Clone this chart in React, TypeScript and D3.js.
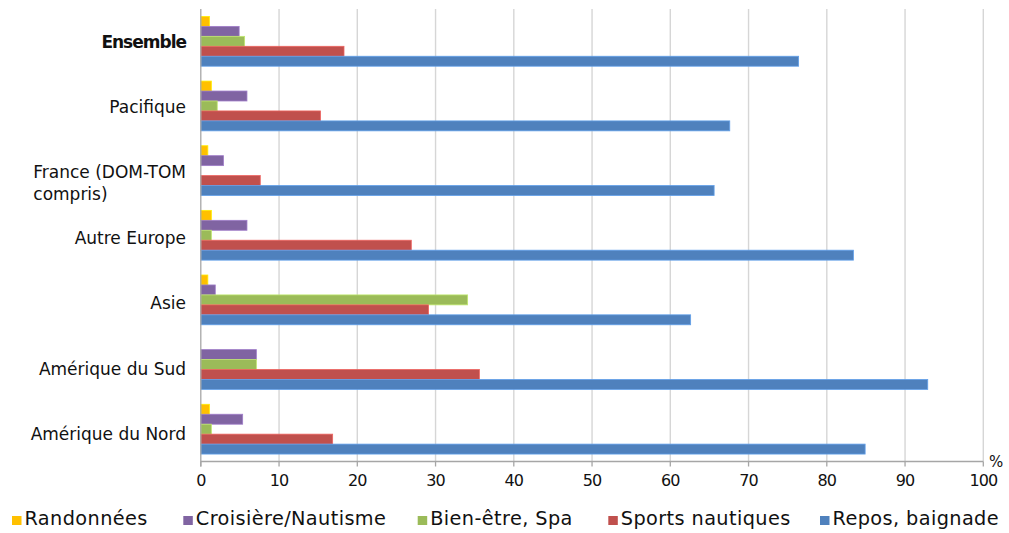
import React, { useEffect, useRef } from "react";
import * as d3 from "d3";

// Destinations (top to bottom) and activity shares, in %
const categories = [
  "Ensemble",
  "Pacifique",
  "France (DOM-TOM compris)",
  "Autre Europe",
  "Asie",
  "Amérique du Sud",
  "Amérique du Nord",
];
const seriesNames = [
  "Randonnées",
  "Croisière/Nautisme",
  "Bien-être, Spa",
  "Sports nautiques",
  "Repos, baignade",
];
const randonnees = [1.1, 1.35, 0.9, 1.35, 0.9, 0, 1.1];
const croisiere = [4.9, 5.9, 2.9, 5.9, 1.85, 7.1, 5.35];
const bienEtre = [5.6, 2.1, 0, 1.35, 34.1, 7.1, 1.35];
const sportsNautiques = [18.3, 15.3, 7.6, 26.9, 29.1, 35.6, 16.85];
const repos = [76.4, 67.6, 65.6, 83.4, 62.6, 92.9, 84.9];
const xTicks = [0, 10, 20, 30, 40, 50, 60, 70, 80, 90, 100];
const boldCategories = ["Ensemble"];

const seriesValues = [randonnees, croisiere, bienEtre, sportsNautiques, repos];
const seriesColors = ["#FFC000", "#8064A2", "#9BBB59", "#C0504D", "#4F81BD"];

// Layout
const W = 1009;
const H = 533;
const plot = { left: 200.8, right: 983.3, top: 9, bottom: 461.5 };
const labelRight = 186;
const labelBaselines: [number, number] = [47.7, 440];
const legendX = [12, 183.3, 417.7, 608.3, 820];
const FONT = "'DejaVu Sans', Verdana, sans-serif";

export default function App() {
  const ref = useRef<SVGSVGElement | null>(null);

  useEffect(() => {
    const svg = d3.select(ref.current);
    svg.selectAll("*").remove();

    const x = d3.scaleLinear().domain([0, 100]).range([plot.left, plot.right]);
    const y = d3
      .scaleBand<string>()
      .domain(categories)
      .range([plot.top, plot.bottom])
      .paddingInner(0.23)
      .paddingOuter(0.115);
    const ySub = d3
      .scaleBand<string>()
      .domain(seriesNames)
      .range([0, y.bandwidth()]);
    const yLabel = d3.scalePoint<string>().domain(categories).range(labelBaselines);

    // Vertical gridlines
    svg
      .append("g")
      .selectAll("line")
      .data(xTicks.filter((t) => t > 0))
      .join("line")
      .attr("x1", (d) => x(d))
      .attr("x2", (d) => x(d))
      .attr("y1", plot.top)
      .attr("y2", plot.bottom)
      .attr("stroke", "#d6d6d6")
      .attr("stroke-width", 1.4);

    // Bars
    const bars = seriesNames.flatMap((s, si) =>
      categories.map((c, ci) => ({ s, c, v: seriesValues[si][ci], color: seriesColors[si] }))
    );
    svg
      .append("g")
      .selectAll("rect")
      .data(bars.filter((b) => b.v > 0))
      .join("rect")
      .attr("x", x(0))
      .attr("y", (d) => (y(d.c) as number) + (ySub(d.s) as number))
      .attr("width", (d) => x(d.v) - x(0))
      .attr("height", ySub.bandwidth())
      .attr("fill", (d) => d.color)
      .attr("stroke", (d) => d3.color(d.color)!.brighter(0.6).formatHex())
      .attr("stroke-width", 0.8);

    // Axes
    const axisColor = "#a6a6a6";
    svg
      .append("line")
      .attr("x1", x(0))
      .attr("x2", x(0))
      .attr("y1", plot.top)
      .attr("y2", plot.bottom + 5)
      .attr("stroke", axisColor)
      .attr("stroke-width", 1.3);
    svg
      .append("line")
      .attr("x1", x(0))
      .attr("x2", x(100))
      .attr("y1", plot.bottom)
      .attr("y2", plot.bottom)
      .attr("stroke", axisColor)
      .attr("stroke-width", 1.3);
    svg
      .append("g")
      .selectAll("line")
      .data(xTicks)
      .join("line")
      .attr("x1", (d) => x(d))
      .attr("x2", (d) => x(d))
      .attr("y1", plot.bottom)
      .attr("y2", plot.bottom + 5)
      .attr("stroke", axisColor)
      .attr("stroke-width", 1.3);

    // Tick labels
    svg
      .append("g")
      .selectAll("text")
      .data(xTicks)
      .join("text")
      .attr("x", (d) => x(d))
      .attr("y", 486)
      .attr("text-anchor", "middle")
      .attr("font-family", FONT)
      .attr("font-size", 16)
      .attr("letter-spacing", -1)
      .attr("fill", "#111")
      .text((d) => String(d));

    svg
      .append("text")
      .attr("x", 989)
      .attr("y", 467)
      .attr("font-family", FONT)
      .attr("font-size", 15)
      .attr("fill", "#111")
      .text("%");

    // Category labels (wrapped, block right-aligned, lines left-aligned)
    const maxLabelWidth = 162;
    const lineHeight = 21.7;
    categories.forEach((c) => {
      const bold = boldCategories.includes(c);
      const t = svg
        .append("text")
        .attr("font-family", FONT)
        .attr("font-size", 17)
        .attr("font-weight", bold ? "bold" : "normal")
        .attr("letter-spacing", bold ? -1 : 0)
        .attr("fill", "#111");
      const words = c.split(" ");
      const lines: string[] = [];
      let cur = "";
      words.forEach((w) => {
        const trial = cur ? cur + " " + w : w;
        t.text(trial);
        const len = (t.node() as SVGTextElement).getComputedTextLength();
        if (len > maxLabelWidth && cur) {
          lines.push(cur);
          cur = w;
        } else {
          cur = trial;
        }
      });
      lines.push(cur);
      t.text(null);
      const widths = lines.map((l) => {
        t.text(l);
        return (t.node() as SVGTextElement).getComputedTextLength();
      });
      t.text(null);
      const maxW = d3.max(widths) as number;
      const by = yLabel(c) as number;
      lines.forEach((l, i) => {
        t.append("tspan")
          .attr("x", lines.length > 1 ? labelRight - maxW : labelRight)
          .attr("y", by + i * lineHeight)
          .attr("text-anchor", lines.length > 1 ? "start" : "end")
          .text(l);
      });
    });

    // Legend
    const legend = svg.append("g");
    seriesNames.forEach((s, i) => {
      legend
        .append("rect")
        .attr("x", legendX[i])
        .attr("y", 516)
        .attr("width", 9.5)
        .attr("height", 9)
        .attr("fill", seriesColors[i]);
      legend
        .append("text")
        .attr("x", legendX[i] + 12.5)
        .attr("y", 525)
        .attr("font-family", FONT)
        .attr("font-size", 19.3)
        .attr("letter-spacing", 0.4)
        .attr("fill", "#111")
        .text(s);
    });
  }, []);

  return (
    <svg
      ref={ref}
      width={W}
      height={H}
      style={{ position: "absolute", left: 0, top: 0, background: "#fff", display: "block" }}
    />
  );
}
